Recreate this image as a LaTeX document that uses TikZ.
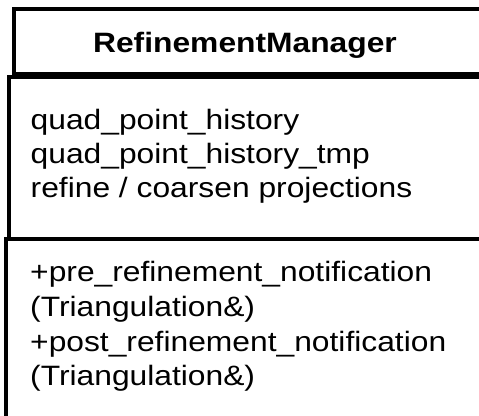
\documentclass[tikz,border=0pt]{standalone}
\usepackage{fontspec}
\setmainfont[FakeStretch=1.135]{Liberation Sans}
\begin{document}
\begin{tikzpicture}[x=1pt,y=-1pt,
  box/.style={draw=black, line width=4pt, inner sep=0pt, outer sep=0pt, anchor=north west},
  lbl/.style={anchor=base west, inner sep=0pt, font=\fontsize{28}{34}\selectfont},
  ttl/.style={anchor=base, inner sep=0pt, font=\fontsize{28}{34}\selectfont\bfseries}]
\useasboundingbox (0,0) rectangle (479,415);
\fill[white] (0,0) rectangle (479,415);
\begin{scope}
\clip (0,0) rectangle (479,415);
\node[box, minimum width=467.1pt, minimum height=65pt] (header) at (13.7,9) {};
\node[box, minimum width=471.6pt, minimum height=162pt] (attrs) at (9.2,77) {};
\node[box, minimum width=475.0pt, minimum height=186pt] (ops) at (5.8,239) {};
\end{scope}
\node[ttl] (title) at (245,52.7) {RefinementManager};
\node[lbl] (a1) at (30.5,129.3) {quad\_point\_history};
\node[lbl] (a2) at (30.5,163.3) {quad\_point\_history\_tmp};
\node[lbl] (a3) at (30.5,197.3) {refine / coarsen projections};
\node[lbl] (m1) at (30,281.7) {+pre\_refinement\_notification};
\node[lbl] (m2) at (30,316.5) {(Triangulation\&)};
\node[lbl] (m3) at (30,351) {+post\_refinement\_notification};
\node[lbl] (m4) at (30,385.3) {(Triangulation\&)};
\end{tikzpicture}
\end{document}
